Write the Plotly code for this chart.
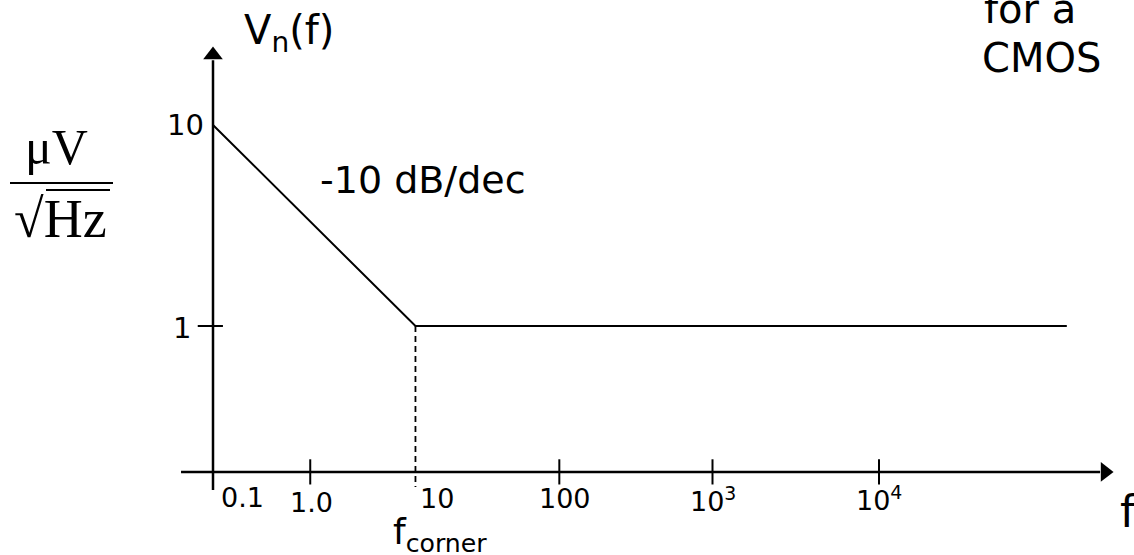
import plotly.graph_objects as go
import math

# ---------------- data ----------------
freq_labels = ["0.1", "1.0", "10", "100", "10<sup>3</sup>", "10<sup>4</sup>"]
freq_pos = [0.0, 0.73, 1.52, 2.60, 3.75, 5.00]      # drawn decade positions on the schematic f axis
noise_x = [0.0, 1.52, 6.41]                          # 1/f region then white-noise floor
noise_y = [10, 1, 1]                                 # µV/√Hz
corner_x = 1.52
corner_y = 1
y_tick_vals = [10, 1]
y_tick_labels = ["10", "1"]
slope_label = "-10 dB/dec"

# axis extents of the schematic
x_axis_level = 0.188
y_axis_bottom, y_axis_top, y_arrow = 0.153, 21.0, 22.3
x_axis_left, x_axis_right, x_arrow = -0.24, 6.66, 6.697

W, H = 1134, 555
FONT = "Comic Sans MS, DejaVu Sans, sans-serif"
SERIF = "Liberation Serif, Times New Roman, serif"

fig = go.Figure()

# axes
fig.add_trace(go.Scatter(x=[0, 0], y=[y_axis_bottom, y_axis_top], mode="lines",
                         line=dict(color="black", width=2.5), hoverinfo="skip"))
fig.add_trace(go.Scatter(x=[x_axis_left, x_axis_right], y=[x_axis_level, x_axis_level], mode="lines",
                         line=dict(color="black", width=2.5), hoverinfo="skip"))
# arrow heads
fig.add_trace(go.Scatter(x=[0], y=[y_arrow], mode="markers",
                         marker=dict(symbol="triangle-up", size=17, color="black"), hoverinfo="skip"))
fig.add_trace(go.Scatter(x=[x_arrow], y=[x_axis_level], mode="markers",
                         marker=dict(symbol="triangle-right", size=17, color="black"), hoverinfo="skip"))
# x tick marks (0.1 coincides with the y axis, 10 with the dashed line)
tick_x = [freq_pos[1]] + freq_pos[3:]
fig.add_trace(go.Scatter(x=tick_x, y=[x_axis_level] * len(tick_x), mode="markers",
                         marker=dict(symbol="line-ns", size=18, line=dict(color="black", width=2)),
                         hoverinfo="skip"))
# y tick mark at 1
fig.add_trace(go.Scatter(x=[-0.02], y=[y_tick_vals[1]], mode="markers",
                         marker=dict(symbol="line-ew", size=18, line=dict(color="black", width=2)),
                         hoverinfo="skip"))
# noise curve
fig.add_trace(go.Scatter(x=noise_x, y=noise_y, mode="lines",
                         line=dict(color="black", width=2), hoverinfo="skip"))
# corner dashed line
fig.add_trace(go.Scatter(x=[corner_x, corner_x], y=[corner_y, 0.158], mode="lines",
                         line=dict(color="black", width=1.8, dash="6px,4px"), hoverinfo="skip"))

ann = []
# x tick labels (pixel offsets of each label from its tick)
x_lab_dx = [29, 1, 22, 6, 0, 0]
x_lab_dy = [-26, -31, -27, -27, -28, -27]
for lab, pos, dx, dy in zip(freq_labels, freq_pos, x_lab_dx, x_lab_dy):
    ann.append(dict(x=pos, y=math.log10(x_axis_level), xref="x", yref="y", text=lab, showarrow=False,
                    xanchor="center", yanchor="middle", xshift=dx, yshift=dy,
                    font=dict(family=FONT, size=27, color="black")))
# y tick labels
y_lab_dx = [-7, -20]
y_lab_dy = [0, -2]
for lab, val, dx, dy in zip(y_tick_labels, y_tick_vals, y_lab_dx, y_lab_dy):
    ann.append(dict(x=0, y=math.log10(val), xref="x", yref="y", text=lab, showarrow=False,
                    xanchor="right", yanchor="middle", xshift=dx, yshift=dy,
                    font=dict(family=FONT, size=29, color="black")))


def paper(px, py):
    return px / W, 1 - py / H


def txt(px, py, text, size, family=FONT, xanchor="center"):
    x, y = paper(px, py)
    ann.append(dict(x=x, y=y, xref="paper", yref="paper", text=text, showarrow=False,
                    xanchor=xanchor, yanchor="middle", font=dict(family=family, size=size, color="black")))


txt(289, 33, "V<sub>n</sub>(f)", 40)
txt(423, 180, slope_label, 38)
txt(1128, 511, "f", 44)
txt(440, 534, "f<sub>corner</sub>", 36)
txt(982, 9, "for a", 40, xanchor="left")
txt(980, 58, "CMOS", 40, xanchor="left")
txt(56, 147, "\u03bcV", 50, family=SERIF)
txt(60, 219, "\u221aHz", 54, family=SERIF)

shapes = [
    dict(type="line", xref="paper", yref="paper",
         x0=10 / W, x1=113 / W, y0=1 - 183 / H, y1=1 - 183 / H, line=dict(color="black", width=2)),
    dict(type="line", xref="paper", yref="paper",
         x0=46 / W, x1=110 / W, y0=1 - 190 / H, y1=1 - 190 / H, line=dict(color="black", width=2)),
]

fig.update_layout(
    width=W, height=H, margin=dict(l=0, r=0, t=0, b=0),
    paper_bgcolor="white", plot_bgcolor="white", showlegend=False,
    xaxis=dict(range=[-213 / 133.2, (W - 213) / 133.2], showgrid=False, zeroline=False,
               showticklabels=False, showline=False, ticks="", fixedrange=True),
    yaxis=dict(type="log", range=[(326 - H) / 201, 326 / 201], showgrid=False, zeroline=False,
               showticklabels=False, showline=False, ticks="", fixedrange=True),
    annotations=ann, shapes=shapes,
)

fig.write_html("out.html", config={"displayModeBar": False},
               post_script="document.body.style.margin='0px';document.body.style.overflow='hidden';")
